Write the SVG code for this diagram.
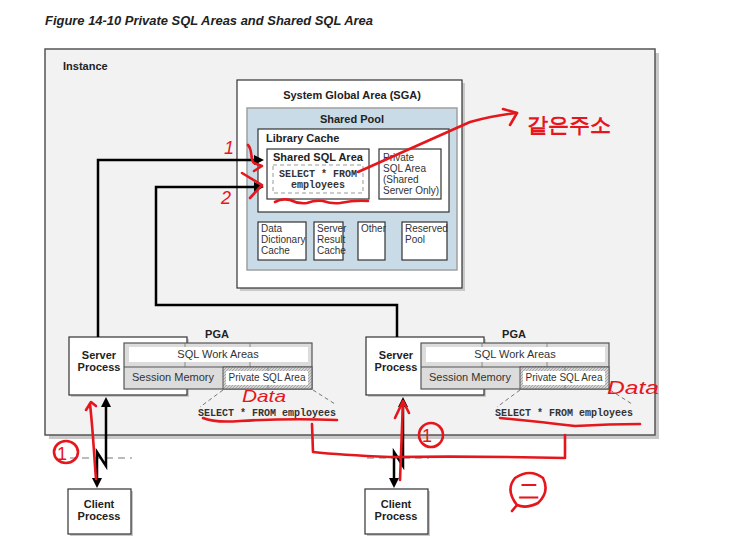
<svg xmlns="http://www.w3.org/2000/svg" width="742" height="545" viewBox="0 0 742 545">
<defs>
<style>
.t{font-family:"Liberation Sans",Arial,sans-serif;fill:#222}
.b11{font-weight:bold;font-size:11px}
.r10{font-size:10px;fill:#333}
.r11{font-size:11px;fill:#333}
.mono{font-family:"Liberation Mono","Courier New",monospace;font-size:10px;font-weight:bold;fill:#333}
.box{fill:#fff;stroke:#333;stroke-width:1.2}
.shadow{fill:#c9c9c9}
.conn{fill:none;stroke:#000;stroke-width:2.5}
.dash{fill:none;stroke:#777;stroke-width:1;stroke-dasharray:4 3}
.gdash{fill:none;stroke:#bbb;stroke-width:2;stroke-dasharray:7 5}
.red{fill:none;stroke:#e5161c;stroke-width:2.6;stroke-linecap:round;stroke-linejoin:round}
.redt{fill:#e5161c;font-family:"Liberation Sans",Arial,sans-serif}
.grid{stroke:#777;stroke-width:0.8}
</style>
<pattern id="hatch" width="3" height="3" patternUnits="userSpaceOnUse">
<rect width="3" height="3" fill="#d4d4d4"/>
<path d="M0,3 L3,0" stroke="#9a9a9a" stroke-width="0.8"/>
</pattern>
</defs>
<rect width="742" height="545" fill="#fff"/>

<text class="t" x="45" y="25" font-size="13" font-weight="bold" font-style="italic" fill="#333" textLength="328" lengthAdjust="spacingAndGlyphs">Figure 14-10 Private SQL Areas and Shared SQL Area</text>

<g id="instance">
<rect class="shadow" x="49" y="53" width="610" height="386"/>
<rect x="45" y="49" width="610" height="386" fill="#f2f2f2" stroke="#555" stroke-width="1.5"/>
<text class="t b11" x="63" y="70" font-size="10">Instance</text>
</g>

<g id="sga">
<rect class="shadow" x="240" y="83" width="225" height="208"/>
<rect class="box" x="237" y="80" width="225" height="208"/>
<text class="t b11" x="352" y="99" text-anchor="middle">System Global Area (SGA)</text>
</g>

<g id="shared-pool">
<rect x="247" y="108" width="210" height="162" fill="#c9dbe6" stroke="#a0a0a0" stroke-width="1.5"/>
<text class="t b11" x="352" y="123" text-anchor="middle">Shared Pool</text>
</g>

<g id="library-cache">
<rect class="box" x="258" y="129" width="191" height="83"/>
<text class="t b11" x="266" y="142">Library Cache</text>
</g>

<g id="shared-sql-area">
<rect class="box" x="267" y="149" width="102" height="50"/>
<text class="t b11" x="273" y="161">Shared SQL Area</text>
<rect x="273" y="165" width="90" height="28" fill="none" stroke="#999" stroke-width="1" stroke-dasharray="4 3"/>
<text class="mono" x="318" y="177" text-anchor="middle">SELECT * FROM</text>
<text class="mono" x="318" y="188" text-anchor="middle">employees</text>
</g>

<g id="private-sql-area-shared">
<rect class="box" x="379" y="149" width="62" height="50"/>
<text class="t r10" x="383" y="161">Private</text>
<text class="t r10" x="383" y="172">SQL Area</text>
<text class="t r10" x="383" y="183">(Shared</text>
<text class="t r10" x="383" y="194">Server Only)</text>
</g>

<g id="data-dictionary-cache">
<rect class="box" x="258" y="222" width="48" height="38"/>
<text class="t r10" x="261" y="232" font-size="9.5">Data</text>
<text class="t r10" x="261" y="243" font-size="9.5">Dictionary</text>
<text class="t r10" x="261" y="254" font-size="9.5">Cache</text>
</g>
<g id="server-result-cache">
<rect class="box" x="314" y="222" width="29" height="38"/>
<text class="t r10" x="317" y="232" font-size="9.5">Server</text>
<text class="t r10" x="317" y="243" font-size="9.5">Result</text>
<text class="t r10" x="317" y="254" font-size="9.5">Cache</text>
</g>
<g id="other">
<rect class="box" x="358" y="222" width="27" height="38"/>
<text class="t r10" x="361" y="232" font-size="9.5">Other</text>
</g>
<g id="reserved-pool">
<rect class="box" x="402" y="222" width="45" height="38"/>
<text class="t r10" x="405" y="232" font-size="9.5">Reserved</text>
<text class="t r10" x="405" y="243" font-size="9.5">Pool</text>
</g>

<g id="server-process-1">
<rect class="shadow" x="71" y="339" width="118" height="58"/>
<rect class="box" x="69" y="337" width="118" height="58"/>
<text class="t b11" x="99" y="359" text-anchor="middle">Server</text>
<text class="t b11" x="99" y="371" text-anchor="middle">Process</text>
</g>
<g id="pga-1">
<text class="t b11" x="217" y="338" text-anchor="middle">PGA</text>
<rect x="124" y="343" width="188" height="46" fill="#dcdcdc" stroke="#555" stroke-width="1.2"/>
<line class="grid" x1="185" y1="343" x2="185" y2="367"/>
<line class="grid" x1="250" y1="343" x2="250" y2="367"/>
<rect x="129" y="347" width="179" height="15" fill="#fff"/>
<line x1="124" y1="367" x2="312" y2="367" stroke="#555" stroke-width="1"/>
<rect x="223" y="367" width="89" height="22" fill="url(#hatch)" stroke="#555" stroke-width="1"/>
<line class="grid" x1="268" y1="367" x2="268" y2="389"/>
<rect x="226" y="371" width="82" height="14" fill="#fff"/>
<text class="t r11" x="218" y="358" text-anchor="middle">SQL Work Areas</text>
<text class="t r11" x="173" y="381" text-anchor="middle">Session Memory</text>
<text class="t r10" x="267" y="381" text-anchor="middle">Private SQL Area</text>
<path class="dash" d="M223,390 L200,407 M313,390 L335,404"/>
<text class="mono" x="267" y="416" text-anchor="middle">SELECT * FROM employees</text>
</g>

<g id="server-process-2">
<rect class="shadow" x="368" y="339" width="118" height="58"/>
<rect class="box" x="366" y="337" width="118" height="58"/>
<text class="t b11" x="396" y="359" text-anchor="middle">Server</text>
<text class="t b11" x="396" y="371" text-anchor="middle">Process</text>
</g>
<g id="pga-2">
<text class="t b11" x="514" y="338" text-anchor="middle">PGA</text>
<rect x="421" y="343" width="188" height="46" fill="#dcdcdc" stroke="#555" stroke-width="1.2"/>
<line class="grid" x1="482" y1="343" x2="482" y2="367"/>
<line class="grid" x1="547" y1="343" x2="547" y2="367"/>
<rect x="426" y="347" width="179" height="15" fill="#fff"/>
<line x1="421" y1="367" x2="609" y2="367" stroke="#555" stroke-width="1"/>
<rect x="520" y="367" width="89" height="22" fill="url(#hatch)" stroke="#555" stroke-width="1"/>
<line class="grid" x1="565" y1="367" x2="565" y2="389"/>
<rect x="523" y="371" width="82" height="14" fill="#fff"/>
<text class="t r11" x="515" y="358" text-anchor="middle">SQL Work Areas</text>
<text class="t r11" x="470" y="381" text-anchor="middle">Session Memory</text>
<text class="t r10" x="564" y="381" text-anchor="middle">Private SQL Area</text>
<path class="dash" d="M520,390 L497,407 M610,390 L632,404"/>
<text class="mono" x="564" y="416" text-anchor="middle">SELECT * FROM employees</text>
</g>

<g id="client-process-1">
<rect class="shadow" x="70" y="491" width="63" height="45"/>
<rect class="box" x="68" y="489" width="63" height="45"/>
<text class="t b11" x="99" y="508" text-anchor="middle">Client</text>
<text class="t b11" x="99" y="520" text-anchor="middle">Process</text>
</g>
<g id="client-process-2">
<rect class="shadow" x="367" y="491" width="63" height="45"/>
<rect class="box" x="365" y="489" width="63" height="45"/>
<text class="t b11" x="396" y="508" text-anchor="middle">Client</text>
<text class="t b11" x="396" y="520" text-anchor="middle">Process</text>
</g>

<g id="connectors">
<path class="gdash" d="M70,458 L132,458"/>
<path class="gdash" d="M367,458 L429,458"/>
<path class="conn" d="M98,337 L98,160 L255,160"/>
<polygon points="264,160 254,155 254,165" fill="#000"/>
<path class="conn" d="M397,337 L397,305 L156,305 L156,187 L255,187"/>
<polygon points="264,187 254,182 254,192" fill="#000"/>
<path class="conn" d="M106,405 L106,466 L97,452 L97,480"/>
<polygon points="106,397 101,407 111,407" fill="#000"/>
<polygon points="97,488 92,478 102,478" fill="#000"/>
<path class="conn" d="M403,405 L403,466 L394,452 L394,480"/>
<polygon points="403,397 398,407 408,407" fill="#000"/>
<polygon points="394,488 389,478 399,478" fill="#000"/>
</g>

<g id="annotations">
<path class="red" d="M358,172 L470,122 Q495,115 517,113"/>
<path class="red" d="M503,109 L517,113 L510,125"/>
<text class="redt" x="527" y="132" font-size="21" font-weight="bold" font-family="'Noto Sans CJK KR',sans-serif">같은주소</text>
<path class="red" d="M275,202 Q282,198 290,200 Q298,204 307,203 Q315,200 323,201 Q332,204 340,203 Q355,200 368,201"/>
<text class="redt" x="224" y="154" font-size="18" font-style="italic">1</text>
<path class="red" d="M248,145 C253,150 250,160 254,163 L262,166 L254,171"/>
<path class="red" d="M242,173 L262,185 L250,198"/>
<text class="redt" x="221" y="204" font-size="18" font-style="italic">2</text>
<text class="redt" x="242" y="402" font-size="17" font-style="italic" textLength="44" lengthAdjust="spacingAndGlyphs">Data</text>
<text class="redt" x="607" y="394" font-size="19" font-style="italic" textLength="52" lengthAdjust="spacingAndGlyphs">Data</text>
<path class="red" d="M203,418 Q215,423 240,421 Q290,418 337,420"/>
<path class="red" d="M500,418 Q540,422 575,426 Q610,424 640,424"/>
<path class="red" d="M312,424 L313,452 Q340,455 390,457 Q480,456 565,458 L565,435"/>
<path class="red" d="M96,479 C94,455 93,430 90,404"/>
<path class="red" d="M86,410 L91,402 L96,406"/>
<path class="red" d="M400,480 C401,455 402,430 403,402"/>
<path class="red" d="M395,418 L403,401 L409,413"/>
<ellipse class="red" cx="66" cy="452" rx="12" ry="11"/>
<text class="redt" x="62" y="460" font-size="18" text-anchor="middle">1</text>
<ellipse class="red" cx="431" cy="435" rx="12" ry="12"/>
<text class="redt" x="427" y="442" font-size="18" text-anchor="middle">1</text>
<path class="red" d="M517,505 Q505,490 515,478 Q530,468 543,478 Q550,492 538,503 Q526,509 517,505 L512,511"/>
<text class="redt" x="529" y="498" font-size="20" font-weight="bold" text-anchor="middle" font-family="'Noto Sans CJK KR',sans-serif">二</text>
</g>
</svg>
